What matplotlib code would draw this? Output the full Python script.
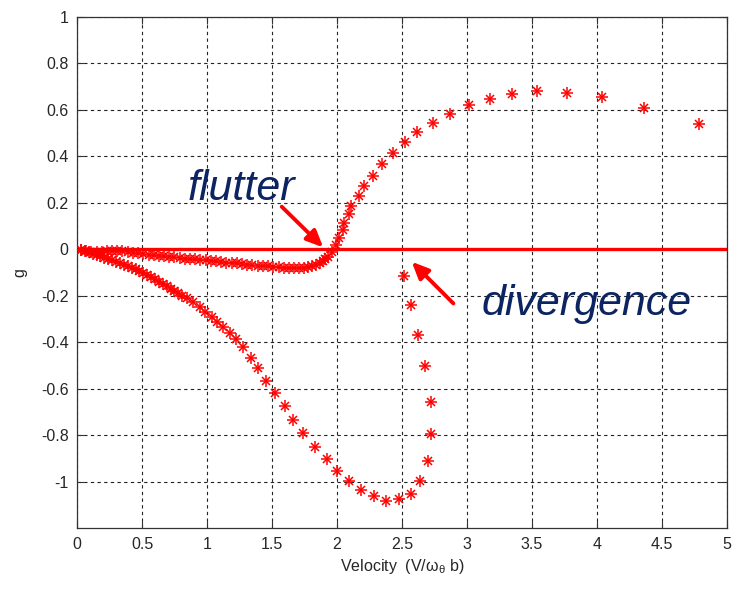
import matplotlib
matplotlib.use('Agg')
import matplotlib.pyplot as plt
import numpy as np

plt.rcParams['font.family'] = ['Liberation Sans', 'DejaVu Sans']
plt.rcParams['mathtext.fontset'] = 'custom'
plt.rcParams['mathtext.rm'] = 'Liberation Sans'
plt.rcParams['mathtext.it'] = 'Liberation Sans:italic'

# flutter branch (V, g)
flutter_v = [0.03, 0.07, 0.11, 0.15, 0.19, 0.23, 0.27, 0.31, 0.35, 0.39, 0.43, 0.47,
             0.51, 0.55, 0.59, 0.63, 0.67, 0.71, 0.75, 0.79, 0.83, 0.87, 0.91, 0.95,
             0.99, 1.03, 1.07, 1.11, 1.15, 1.19, 1.23, 1.27, 1.31, 1.35, 1.39, 1.43,
             1.47, 1.51, 1.55, 1.59, 1.63, 1.67, 1.71, 1.75, 1.78, 1.81, 1.84, 1.87,
             1.89, 1.91, 1.933, 1.959, 1.992, 2.018, 2.044, 2.052, 2.090, 2.108, 2.167,
             2.210, 2.275, 2.346, 2.431, 2.521, 2.618, 2.738, 2.869, 3.014, 3.175,
             3.348, 3.541, 3.772, 4.036, 4.364, 4.785]
flutter_g = [-0.005, -0.008, -0.010, -0.011, -0.010, -0.009, -0.008, -0.008, -0.009,
             -0.011, -0.014, -0.017, -0.020, -0.023, -0.026, -0.028, -0.031, -0.033,
             -0.035, -0.038, -0.040, -0.042, -0.044, -0.046, -0.048, -0.050, -0.052,
             -0.054, -0.057, -0.059, -0.061, -0.063, -0.066, -0.068, -0.070, -0.072,
             -0.074, -0.076, -0.078, -0.079, -0.080, -0.081, -0.081, -0.080, -0.078,
             -0.074, -0.068, -0.060, -0.052, -0.043, -0.032, -0.011, 0.018, 0.047,
             0.083, 0.111, 0.151, 0.186, 0.229, 0.272, 0.316, 0.366, 0.412, 0.460,
             0.505, 0.544, 0.581, 0.620, 0.646, 0.666, 0.680, 0.673, 0.653, 0.606, 0.537]

# divergence branch (V, g)
diverg_v = [0.03, 0.06, 0.09, 0.12, 0.15, 0.18, 0.21, 0.24, 0.27, 0.30, 0.33, 0.36,
            0.39, 0.42, 0.45, 0.48, 0.51, 0.54, 0.57, 0.60, 0.63, 0.66, 0.69, 0.72,
            0.75, 0.78, 0.81, 0.85, 0.895, 0.946, 0.985, 1.036, 1.075, 1.126, 1.177,
            1.221, 1.275, 1.336, 1.395, 1.457, 1.526, 1.597, 1.661, 1.741, 1.831,
            1.921, 2.002, 2.092, 2.185, 2.285, 2.377, 2.477, 2.568, 2.636, 2.698,
            2.725, 2.722, 2.677, 2.625, 2.567, 2.515]
diverg_g = [-0.003, -0.008, -0.013, -0.019, -0.025, -0.031, -0.037, -0.042, -0.047,
            -0.054, -0.061, -0.067, -0.073, -0.080, -0.087, -0.095, -0.103, -0.112,
            -0.121, -0.130, -0.139, -0.150, -0.160, -0.170, -0.180, -0.189, -0.199,
            -0.211, -0.226, -0.247, -0.269, -0.290, -0.312, -0.336, -0.362, -0.388,
            -0.422, -0.467, -0.512, -0.566, -0.617, -0.673, -0.735, -0.789, -0.849,
            -0.902, -0.953, -0.997, -1.036, -1.061, -1.082, -1.073, -1.052, -0.997,
            -0.911, -0.794, -0.658, -0.502, -0.369, -0.240, -0.115]

x_ticks = [0, 0.5, 1, 1.5, 2, 2.5, 3, 3.5, 4, 4.5, 5]
y_ticks = [-1, -0.8, -0.6, -0.4, -0.2, 0, 0.2, 0.4, 0.6, 0.8, 1]

RED = '#ff0000'
NAVY = '#0c2462'


def asterisk(ax, v, g):
    # MATLAB-style '*' = '+' with a smaller 'x' on top
    ax.plot(v, g, linestyle='none', marker='+', ms=8.5, mew=1.1, color=RED, zorder=3)
    ax.plot(v, g, linestyle='none', marker='x', ms=5.5, mew=1.1, color=RED, zorder=3)


fig = plt.figure(figsize=(7.34, 5.94), dpi=100)
ax = fig.add_axes([77 / 734, 1 - 528.3 / 594, 650 / 734, 511.6 / 594])

ax.plot([0, 5], [0, 0], color=RED, lw=2.4, zorder=2)
asterisk(ax, flutter_v, flutter_g)
asterisk(ax, diverg_v, diverg_g)

ax.set_xlim(0, 5)
ax.set_ylim(-1.2, 1)
ax.set_xticks(x_ticks)
ax.set_xticklabels([f'{t:g}' for t in x_ticks])
ax.set_yticks(y_ticks)
ax.set_yticklabels([f'{t:g}' for t in y_ticks])
ax.tick_params(direction='in', length=5, width=0.8, colors='#333333',
               labelcolor='#262626', labelsize=11.5, top=True, right=True, pad=6)
ax.grid(True, color='#222222', linestyle=(0, (3, 3)), linewidth=0.8)
for s in ax.spines.values():
    s.set_color('#333333')
    s.set_linewidth(0.9)

ax.set_xlabel(r'Velocity  (V/$\mathregular{\omega_\theta}$ b)', fontsize=11.5,
              color='#262626', labelpad=4)
ax.set_ylabel('g', fontsize=11.5, color='#262626', labelpad=10)

# annotations
arrow_style = dict(arrowstyle='-|>,head_length=1.0,head_width=0.45',
                   color=RED, lw=2.8, shrinkA=0, shrinkB=0)
ax.annotate('', xy=(1.894, 0.008), xytext=(1.575, 0.183),
            arrowprops=arrow_style, zorder=4)
ax.annotate('', xy=(2.575, -0.054), xytext=(2.895, -0.233),
            arrowprops=arrow_style, zorder=4)
ax.text(0.854, 0.212, 'flutter', fontsize=31, style='italic', color=NAVY,
        ha='left', va='baseline', zorder=5)
ax.text(3.113, -0.283, 'divergence', fontsize=31, style='italic', color=NAVY,
        ha='left', va='baseline', zorder=5)

fig.savefig('out.png', dpi=100)
plt.close(fig)
